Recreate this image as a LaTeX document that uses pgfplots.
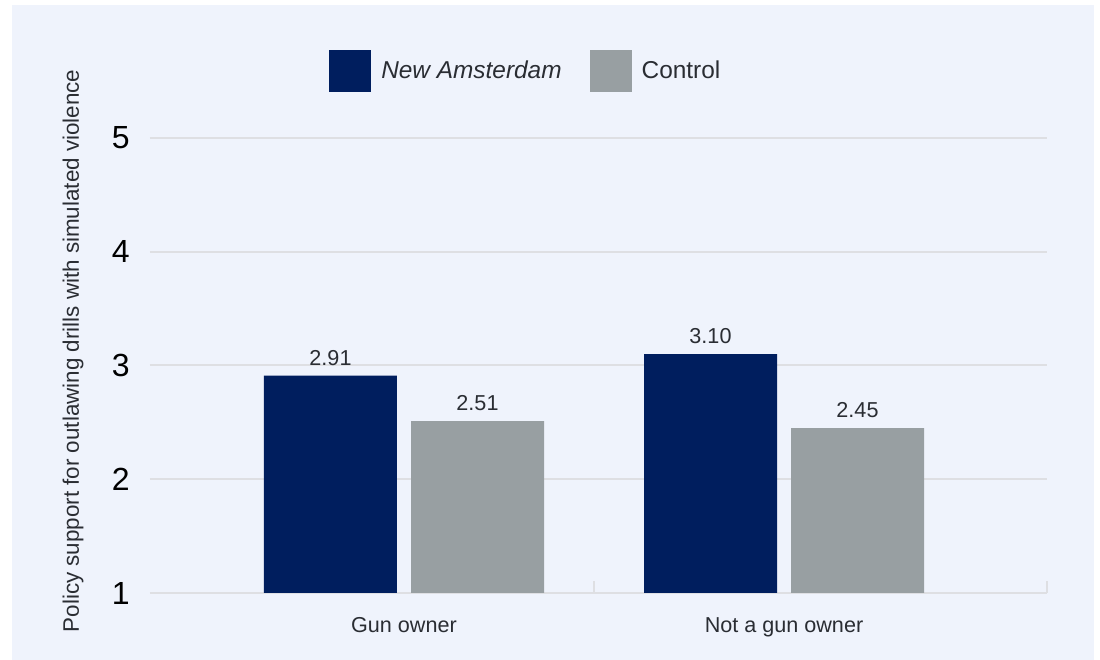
\documentclass[border=0pt]{standalone}
\usepackage{pgfplots}
\pgfplotsset{compat=1.18}
\usepackage{fontspec}
\setmainfont{Liberation Sans}
\definecolor{navy}{HTML}{001E5E}
\definecolor{ctrl}{HTML}{989FA2}
\definecolor{panel}{HTML}{EFF3FC}
\definecolor{gridc}{HTML}{DEDFE3}
\definecolor{txt}{HTML}{2A2D33}
\pgfplotsset{/pgf/number format/assume math mode=true}
\begin{document}
\begin{tikzpicture}
\useasboundingbox (-112.5pt,-50.25pt) rectangle (712.5pt,444.75pt);
\fill[panel] (-103.5pt,-50.25pt) rectangle (708pt,441pt);
\begin{axis}[
  at={(0pt,0pt)}, anchor=south west,
  scale only axis, width=672.75pt, height=341.25pt,
  ybar=10.5pt, bar width=99.75pt,
  xmin=-0.66842, xmax=1.69211, ymin=1, ymax=5,
  xtick={0,1}, xticklabels={Gun owner, Not a gun owner},
  ytick={1,2,3,4,5},
  axis line style={draw=none},
  xtick pos=left, ytick pos=left,
  major tick length=0pt,
  extra x ticks={0.5,1.69211}, extra x tick labels={},
  extra x tick style={major tick length=9pt, tick align=inside, tick style={draw=gridc, line width=1.5pt}},
  ymajorgrids, grid style={draw=gridc, line width=1.5pt},
  yticklabel style={font=\fontsize{24}{26}\selectfont, text=black, inner sep=0pt, xshift=-15pt},
  xticklabel style={font=\fontsize{16.2}{18}\selectfont, text=txt, inner sep=0pt, yshift=-18pt},
  ylabel={Policy support for outlawing drills with simulated violence},
  ylabel style={at={(axis description cs:-0.0858,0.532)}, anchor=center, font=\fontsize{16.8}{18}\selectfont, text=txt},
  nodes near coords={\pgfmathprintnumber[fixed,fixed zerofill,precision=2]{\pgfplotspointmeta}},
  nodes near coords style={font=\fontsize{16.2}{18}\selectfont, text=txt, anchor=south, inner sep=0pt, yshift=7.5pt},
  every axis plot post/.append style={legend image code/.code={\fill[#1,draw=none] (0pt,-15.75pt) rectangle (31.5pt,15.75pt);}},
  legend style={draw=none, fill=none, at={(axis description cs:0.1996,1.147)}, anchor=west, inner sep=0pt,
    font=\fontsize{18.3}{20}\selectfont, text=txt, nodes={inner sep=0pt},
    /tikz/every odd column/.append style={column sep=7.5pt},
    /tikz/every even column/.append style={column sep=21pt}},
  legend columns=2, legend cell align=left,
]
\addplot[fill=navy, draw=none] coordinates {(0,2.91) (1,3.10)};
\addplot[fill=ctrl, draw=none] coordinates {(0,2.51) (1,2.45)};
\legend{{\itshape New Amsterdam}, Control}
\end{axis}
\end{tikzpicture}
\end{document}
